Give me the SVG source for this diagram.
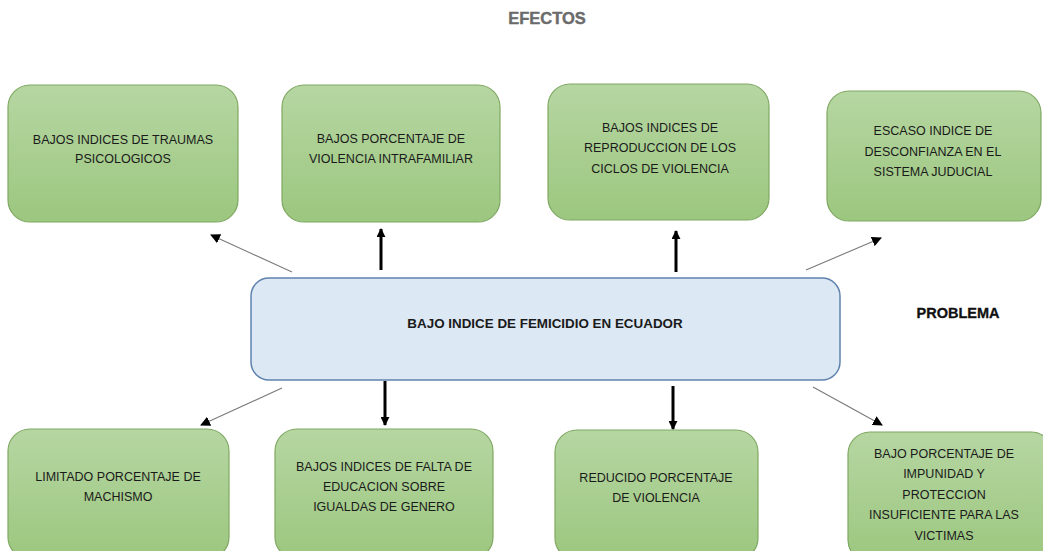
<svg xmlns="http://www.w3.org/2000/svg" width="1043" height="551" viewBox="0 0 1043 551">
<style>
.g{stroke:#7fa862;stroke-width:1.2}
.c{fill:#dce8f4;stroke:#5f82ad;stroke-width:1.5}
.t{font-family:"Liberation Sans",Arial,sans-serif;font-size:12.5px;fill:#1a1a1a;text-anchor:middle}
.b{font-weight:bold}
.thin{stroke:#7a7a7a;stroke-width:1.1;fill:none}
.thick{stroke:#000;stroke-width:3;fill:none}
</style>
<defs>
<linearGradient id="gg" x1="0" y1="0" x2="0" y2="1">
<stop offset="0" stop-color="#b6d6a2"/>
<stop offset="1" stop-color="#9cc77f"/>
</linearGradient>
<marker id="ah" viewBox="0 0 10 10" refX="9" refY="5" markerWidth="10" markerHeight="10" markerUnits="userSpaceOnUse" orient="auto">
<path d="M0,0 L10,5 L0,10 z" fill="#000"/>
</marker>
<marker id="ahk" viewBox="0 0 10 10" refX="9" refY="5" markerWidth="3" markerHeight="3" orient="auto">
<path d="M0,0 L10,5 L0,10 z" fill="#000"/>
</marker>
</defs>
<rect width="1043" height="551" fill="#fff"/>
<text x="547" y="24" class="t b" style="font-size:16.5px;fill:#6b6b6b;stroke:#6b6b6b;stroke-width:0.4">EFECTOS</text>
<text x="958" y="318" class="t b" style="font-size:14.5px;fill:#111;stroke:#111;stroke-width:0.3">PROBLEMA</text>

<g id="n1"><rect x="8" y="85" width="230" height="137" rx="22" fill="url(#gg)" class="g"/>
<text class="t" x="123" y="144">BAJOS INDICES DE TRAUMAS</text><text class="t" x="123" y="163">PSICOLOGICOS</text></g>
<g id="n2"><rect x="282" y="85" width="218" height="137" rx="22" fill="url(#gg)" class="g"/>
<text class="t" x="391" y="143">BAJOS PORCENTAJE DE</text><text class="t" x="391" y="163">VIOLENCIA INTRAFAMILIAR</text></g>
<g id="n3"><rect x="548" y="84" width="221" height="136" rx="22" fill="url(#gg)" class="g"/>
<text class="t" x="660" y="132">BAJOS INDICES DE</text><text class="t" x="660" y="152">REPRODUCCION DE LOS</text><text class="t" x="660" y="173">CICLOS DE VIOLENCIA</text></g>
<g id="n4"><rect x="827" y="91" width="214" height="130" rx="22" fill="url(#gg)" class="g"/>
<text class="t" x="933" y="135">ESCASO INDICE DE</text><text class="t" x="933" y="156">DESCONFIANZA EN EL</text><text class="t" x="933" y="176">SISTEMA JUDUCIAL</text></g>

<g id="center"><rect x="251" y="278" width="589" height="102" rx="18" class="c"/>
<text class="t b" x="545" y="328" style="font-size:13.4px">BAJO INDICE DE FEMICIDIO EN ECUADOR</text></g>

<g id="n5"><rect x="8" y="429" width="221" height="130" rx="22" fill="url(#gg)" class="g"/>
<text class="t" x="118" y="481">LIMITADO PORCENTAJE DE</text><text class="t" x="118" y="501">MACHISMO</text></g>
<g id="n6"><rect x="275" y="429" width="218" height="130" rx="22" fill="url(#gg)" class="g"/>
<text class="t" x="384" y="471">BAJOS INDICES DE FALTA DE</text><text class="t" x="384" y="491">EDUCACION SOBRE</text><text class="t" x="384" y="511">IGUALDAS DE GENERO</text></g>
<g id="n7"><rect x="555" y="430" width="203" height="130" rx="22" fill="url(#gg)" class="g"/>
<text class="t" x="656" y="482">REDUCIDO PORCENTAJE</text><text class="t" x="656" y="502">DE VIOLENCIA</text></g>
<g id="n8"><rect x="848" y="432" width="205" height="130" rx="22" fill="url(#gg)" class="g"/>
<text class="t" x="944" y="458">BAJO PORCENTAJE DE</text><text class="t" x="944" y="478">IMPUNIDAD Y</text><text class="t" x="944" y="499">PROTECCION</text><text class="t" x="944" y="519">INSUFICIENTE PARA LAS</text><text class="t" x="944" y="540">VICTIMAS</text></g>

<g id="connectors">
<line class="thin" x1="292" y1="272" x2="211" y2="235" marker-end="url(#ah)"/>
<line class="thick" x1="381" y1="270" x2="381" y2="229" marker-end="url(#ahk)"/>
<line class="thick" x1="676" y1="272" x2="676" y2="231" marker-end="url(#ahk)"/>
<line class="thin" x1="806" y1="270" x2="881" y2="238" marker-end="url(#ah)"/>
<line class="thin" x1="282" y1="388" x2="201" y2="425" marker-end="url(#ah)"/>
<line class="thick" x1="385" y1="381" x2="385" y2="425" marker-end="url(#ahk)"/>
<line class="thick" x1="673" y1="386" x2="673" y2="429" marker-end="url(#ahk)"/>
<line class="thin" x1="813" y1="387" x2="882" y2="425" marker-end="url(#ah)"/>
</g>
</svg>
